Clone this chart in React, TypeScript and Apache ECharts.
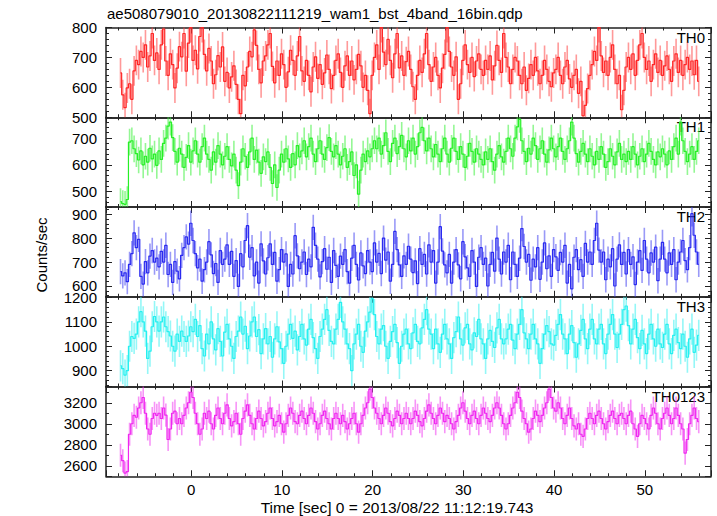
import React, { useEffect, useRef } from 'react';
import * as echarts from 'echarts';

const TITLE = 'ae508079010_20130822111219_wam1_bst_4band_16bin.qdp';
const X_TITLE = 'Time [sec] 0 = 2013/08/22 11:12:19.743';
const Y_TITLE = 'Counts/sec';
const PANEL_NAMES = ['TH0', 'TH1', 'TH2', 'TH3', 'TH0123'];

// time bins (seconds): 0.25 s bins, first bin centre
const BIN_START = -7.8;
const BIN_WIDTH = 0.25;
const X_MIN = -9.4;
const X_MAX = 57.3;

const TH0 = [
  648, 575, 532, 598, 612, 560, 655, 690, 676, 720, 700, 742, 668, 705, 780, 690,
  715, 660, 742, 795, 688, 640, 712, 676, 598, 664, 736, 702, 780, 654, 748, 800,
  690, 724, 662, 770, 800, 710, 655, 730, 688, 612, 642, 706, 668, 735, 620, 650,
  598, 635, 672, 610, 560, 512, 640, 605, 668, 720, 702, 792, 740, 660, 615, 688,
  705, 742, 780, 670, 615, 688, 640, 712, 676, 600, 652, 724, 690, 640, 705, 770,
  655, 620, 690, 640, 585, 668, 702, 630, 676, 610, 648, 708, 660, 596, 640, 690,
  712, 650, 600, 672, 705, 640, 688, 625, 660, 710, 672, 600, 640, 590, 512, 640,
  700, 742, 660, 800, 718, 676, 760, 690, 632, 712, 780, 665, 705, 640, 686, 720,
  660, 602, 560, 640, 690, 650, 712, 780, 676, 620, 668, 700, 640, 598, 664, 710,
  800, 720, 668, 640, 702, 560, 612, 690, 742, 676, 650, 700, 636, 688, 712, 660,
  640, 690, 660, 705, 625, 672, 740, 690, 650, 780, 700, 668, 612, 660, 700, 688,
  640, 612, 668, 590, 630, 676, 640, 700, 655, 612, 640, 690, 660, 620, 602, 648,
  660, 700, 640, 612, 668, 690, 628, 600, 640, 660, 580, 620, 505, 540, 596, 640,
  676, 720, 690, 800, 705, 650, 688, 640, 700, 742, 660, 612, 640, 525, 590, 668,
  700, 660, 712, 640, 690, 742, 780, 700, 660, 688, 620, 676, 712, 650, 690, 640,
  672, 705, 660, 620, 688, 712, 650, 690, 640, 676, 700, 660, 688, 642, 690, 620,
];

const TH1 = [
  462, 455, 452, 470, 685, 690, 660, 642, 618, 652, 600, 632, 610, 662, 622, 640,
  598, 652, 620, 680, 700, 745, 760, 702, 650, 610, 662, 640, 590, 628, 672, 610,
  652, 690, 640, 610, 668, 700, 640, 620, 580, 648, 610, 672, 640, 600, 632, 668,
  620, 596, 640, 580, 522, 610, 660, 632, 590, 648, 700, 620, 655, 610, 568, 630,
  612, 648, 590, 530, 600, 515, 580, 640, 610, 660, 622, 590, 642, 600, 672, 630,
  652, 690, 630, 668, 700, 640, 612, 660, 690, 640, 620, 664, 702, 650, 630, 672,
  640, 600, 632, 660, 590, 612, 648, 560, 600, 490, 580, 640, 612, 652, 630, 660,
  690, 660, 700, 640, 672, 720, 650, 612, 680, 700, 642, 668, 710, 660, 630, 690,
  652, 700, 640, 668, 720, 740, 690, 652, 700, 660, 630, 676, 640, 612, 660, 700,
  640, 610, 662, 700, 650, 620, 668, 640, 590, 632, 680, 650, 610, 660, 640, 620,
  600, 648, 620, 660, 612, 580, 640, 672, 630, 610, 650, 700, 660, 632, 700, 742,
  770, 690, 650, 612, 662, 640, 700, 672, 620, 660, 690, 640, 610, 656, 700, 660,
  630, 668, 700, 650, 620, 660, 690, 760, 700, 642, 610, 650, 680, 640, 612, 660,
  632, 600, 650, 620, 668, 640, 590, 612, 660, 632, 600, 648, 680, 620, 640, 612,
  650, 620, 668, 640, 600, 632, 660, 612, 640, 680, 650, 620, 600, 648, 630, 660,
  640, 600, 652, 620, 668, 700, 640, 760, 690, 650, 612, 640, 668, 620, 650, 690,
];

const TH2 = [
  660, 642, 655, 618, 690, 735, 822, 760, 795, 640, 608, 702, 655, 725, 748, 700,
  716, 680, 745, 700, 770, 648, 690, 615, 702, 662, 630, 728, 760, 805, 775, 862,
  790, 735, 676, 712, 620, 668, 700, 785, 730, 652, 694, 615, 748, 690, 712, 772,
  690, 745, 640, 706, 598, 735, 680, 790, 852, 720, 760, 642, 700, 612, 776, 705,
  650, 718, 776, 690, 740, 620, 668, 752, 700, 734, 598, 690, 650, 810, 726, 672,
  700, 742, 648, 712, 680, 845, 770, 712, 638, 702, 756, 670, 720, 615, 748, 686,
  640, 725, 690, 752, 660, 612, 716, 770, 690, 625, 738, 684, 652, 748, 700, 660,
  780, 700, 736, 652, 800, 708, 742, 620, 690, 828, 752, 688, 640, 726, 690, 766,
  712, 656, 705, 610, 756, 690, 732, 650, 772, 700, 748, 612, 700, 848, 746, 688,
  655, 732, 612, 700, 752, 688, 630, 785, 722, 676, 640, 748, 700, 598, 720, 760,
  690, 716, 600, 690, 740, 662, 800, 712, 650, 742, 700, 770, 626, 742, 690, 640,
  716, 840, 765, 700, 732, 624, 712, 680, 760, 628, 700, 780, 672, 726, 640, 752,
  722, 665, 740, 700, 770, 612, 690, 588, 720, 752, 668, 710, 640, 778, 700, 742,
  690, 790, 862, 750, 700, 742, 626, 712, 680, 756, 600, 712, 772, 690, 740, 650,
  752, 690, 722, 606, 700, 748, 665, 790, 712, 655, 738, 700, 762, 622, 712, 782,
  712, 655, 738, 690, 752, 626, 700, 742, 790, 706, 668, 760, 902, 812, 742, 690,
];

const TH3 = [
  920, 908, 882, 900, 1000, 1040, 1032, 1050, 1100, 1142, 1100, 1062, 950, 980, 1080, 1122,
  1100, 1062, 1100, 1120, 1080, 1060, 1042, 1000, 980, 1050, 1020, 1062, 1040, 1020, 1042, 1080,
  1060, 1110, 1040, 1085, 990, 960, 1050, 1010, 1100, 1030, 985, 1072, 1020, 960, 1058, 1090,
  1030, 1000, 950, 1040, 1062, 1120, 1050, 1082, 990, 1042, 1100, 1120, 1040, 1068, 970, 1030,
  1072, 1010, 1040, 955, 1030, 1080, 1018, 990, 930, 1000, 1050, 1090, 1032, 1062, 985, 1040,
  1090, 1030, 1005, 1070, 1110, 1035, 990, 950, 1040, 1070, 1110, 1150, 1065, 1020, 1010, 1070,
  1110, 1180, 1100, 1070, 1010, 990, 900, 1010, 1050, 1090, 1000, 975, 1062, 1100, 1140, 1195,
  1130, 1040, 1010, 1070, 1085, 1000, 950, 1020, 1060, 1090, 1015, 930, 1000, 1050, 1070, 1010,
  990, 1055, 1090, 1020, 1010, 1075, 1110, 1150, 1070, 1050, 990, 1070, 1010, 975, 1050, 1090,
  1030, 1010, 950, 1035, 1060, 1120, 1030, 1005, 1075, 1090, 1010, 985, 1055, 1040, 1110, 1030,
  1010, 950, 1030, 1065, 1020, 995, 1075, 1110, 1030, 1010, 1030, 1070, 1090, 1025, 990, 1050,
  1090, 1150, 1055, 1030, 990, 1050, 1090, 1030, 1010, 930, 990, 1050, 1085, 1060, 1010, 1005,
  1045, 1090, 1130, 1050, 1030, 970, 1050, 1085, 1015, 955, 1010, 1065, 1110, 1030, 990, 1070,
  1110, 1030, 1010, 1070, 1090, 1010, 970, 1050, 1090, 1130, 1050, 995, 1050, 1090, 1150, 1165,
  1085, 1010, 1070, 1110, 1035, 990, 1065, 1010, 970, 1050, 1090, 1030, 1000, 1070, 1010, 995,
  1050, 1090, 1010, 970, 1045, 1070, 1015, 990, 1050, 1000, 955, 1030, 1070, 975, 1005, 1045,
];

const TH0123 = [
  2700, 2648, 2530, 2545, 2900, 3000, 3080, 3062, 3150, 3200, 3250, 3100, 2950, 2900, 3050, 3100,
  3080, 3100, 3050, 3150, 3082, 2850, 2950, 3100, 3120, 3000, 3050, 3000, 3080, 3150, 3200, 3300,
  3250, 3100, 3000, 2900, 2950, 3100, 3050, 3120, 3000, 2950, 3080, 3150, 3050, 3000, 3100, 3180,
  3050, 2980, 3020, 3100, 3000, 2900, 3050, 3120, 3180, 3080, 3000, 2950, 3050, 3120, 3050, 2980,
  3020, 3100, 3150, 3050, 2980, 3020, 3080, 3000, 2920, 3000, 3080, 3150, 3100, 3020, 3000, 3080,
  3120, 3050, 3000, 3080, 3150, 3100, 3020, 2950, 3000, 3080, 3120, 3050, 3000, 2950, 3050, 3100,
  3050, 3000, 3080, 3020, 2950, 3000, 3050, 3100, 3000, 2920, 3000, 3080, 3150, 3200, 3330, 3250,
  3150, 3100, 3050, 3000, 3080, 3150, 3100, 3020, 2980, 3050, 3120, 3080, 3000, 3050, 3100, 3050,
  3000, 3050, 3120, 3080, 3020, 2980, 3050, 3120, 3180, 3100, 3050, 3000, 3080, 3150, 3100, 3020,
  3080, 3050, 3000, 2950, 3020, 3080, 3150, 3200, 3120, 3050, 3000, 3080, 3120, 3050, 3000, 3080,
  3150, 3100, 3050, 3020, 3080, 3150, 3200, 3150, 3080, 3000, 2950, 3000, 3080, 3150, 3200, 3300,
  3250, 3120, 3050, 3000, 2920, 2950, 3050, 3120, 3080, 3020, 3080, 3150, 3200, 3330, 3250, 3150,
  3120, 3200, 3150, 3050, 3000, 3080, 3150, 3050, 2980, 2950, 3000, 2900, 2880, 2950, 3050, 3100,
  3050, 3000, 3080, 3120, 3050, 3000, 2950, 3020, 3080, 3120, 3050, 3000, 3080, 3100, 3050, 3000,
  3080, 3120, 3000, 2950, 2880, 3000, 3080, 3050, 3000, 2950, 3080, 3150, 3100, 3000, 2950, 3050,
  3100, 3150, 3080, 3000, 3050, 3150, 3080, 3000, 2950, 2720, 2850, 3000, 3080, 3150, 3050, 3020,
];

const PANEL_DATA = [TH0, TH1, TH2, TH3, TH0123];
// typical 1-sigma error per band (counts/sec)
const PANEL_ERR = [50, 50, 53, 64, 110];
const Y_MIN = [500, 442, 555, 835, 2500];
const Y_MAX = [800, 778, 930, 1203, 3355];
const Y_SPLIT = [3, 3, 3, 3, 4];
const Y_MINOR = [5, 5, 5, 5, 2];
const LINE_COLORS = ['#ff2626', '#26f026', '#2a2af0', '#26f0f0', '#f026f0'];
const BAR_COLORS = [
  'rgba(255,70,70,0.55)',
  'rgba(60,240,60,0.55)',
  'rgba(70,70,240,0.55)',
  'rgba(60,240,240,0.55)',
  'rgba(240,60,240,0.55)',
];

const FONT = 'Liberation Sans, Arial, Helvetica, sans-serif';
const PLOT_LEFT = 106;
const PLOT_RIGHT = 711;
const PLOT_TOP = 27.5;
const PANEL_H = 89.75;
const W = 717;
const H = 516;

export default function App() {
  const ref = useRef<HTMLDivElement>(null);
  useEffect(() => {
    if (!ref.current) return;
    const chart = echarts.init(ref.current, null, { renderer: 'svg' });
    const axisLine = { show: true, onZero: false, lineStyle: { color: '#222', width: 1.5 } };
    const fmt = (v: number) => String(Math.round(v));
    const grids: any[] = [];
    const xAxes: any[] = [];
    const yAxes: any[] = [];
    const series: any[] = [];
    const graphics: any[] = [];
    PANEL_DATA.forEach((vals, k) => {
      grids.push({ left: PLOT_LEFT, top: PLOT_TOP + k * PANEL_H, width: PLOT_RIGHT - PLOT_LEFT, height: PANEL_H });
      const isLast = k === PANEL_DATA.length - 1;
      const xBase = {
        type: 'value', gridIndex: k, min: X_MIN, max: X_MAX, splitNumber: 7,
        axisLine, splitLine: { show: false },
        axisTick: { show: true, inside: true, length: 6, lineStyle: { color: '#222', width: 1 } },
        minorTick: { show: true, splitNumber: 5, length: 3, lineStyle: { color: '#222', width: 1 } },
      };
      xAxes.push({
        ...xBase, position: 'bottom',
        axisLabel: { show: isLast, showMinLabel: false, showMaxLabel: false, color: '#000', fontSize: 15, fontFamily: FONT, margin: 6, formatter: fmt },
      });
      xAxes.push({ ...xBase, position: 'top', axisLabel: { show: false } });
      const yBase = {
        type: 'value', gridIndex: k, min: Y_MIN[k], max: Y_MAX[k], splitNumber: Y_SPLIT[k],
        axisLine, splitLine: { show: false },
        axisTick: { show: true, inside: true, length: 6, lineStyle: { color: '#222', width: 1 } },
        minorTick: { show: true, splitNumber: Y_MINOR[k], length: 3, lineStyle: { color: '#222', width: 1 } },
      };
      const edgeOk = k === 0;
      yAxes.push({
        ...yBase, position: 'left',
        axisLabel: { show: true, showMinLabel: edgeOk, showMaxLabel: edgeOk, color: '#000', fontSize: 15, fontFamily: FONT, margin: 9, formatter: fmt },
      });
      yAxes.push({ ...yBase, position: 'right', axisLabel: { show: false } });

      const pts = vals.map((v, i) => [BIN_START + i * BIN_WIDTH, v]);
      const err = PANEL_ERR[k];
      const barColor = BAR_COLORS[k];
      series.push({
        type: 'custom', xAxisIndex: 2 * k, yAxisIndex: 2 * k, clip: true, silent: true,
        data: vals.map((v, i) => [BIN_START + i * BIN_WIDTH, v, err]),
        renderItem: (params: any, api: any) => {
          const x = api.value(0);
          const y = api.value(1);
          const e = api.value(2);
          const p1 = api.coord([x, y - e]);
          const p2 = api.coord([x, y + e]);
          return {
            type: 'line',
            shape: { x1: p1[0], y1: p1[1], x2: p2[0], y2: p2[1] },
            style: { stroke: barColor, lineWidth: 1.6 },
          };
        },
      });
      series.push({
        type: 'line', xAxisIndex: 2 * k, yAxisIndex: 2 * k, step: 'middle', data: pts,
        showSymbol: false, symbol: 'none', silent: true, clip: true,
        lineStyle: { color: LINE_COLORS[k], width: 1.2 },
      });
      graphics.push({
        type: 'text', right: W - 705, top: PLOT_TOP + k * PANEL_H + 2,
        style: { text: PANEL_NAMES[k], fontSize: 15, fontFamily: FONT, fill: '#000' },
      });
    });
    graphics.push({
      type: 'text', left: 107, top: 6,
      style: { text: TITLE, fontSize: 15, fontFamily: FONT, fill: '#000' },
    });
    graphics.push({
      type: 'text', x: 397, y: 507,
      style: { text: X_TITLE, fontSize: 15.5, fontFamily: FONT, fill: '#000', align: 'center', verticalAlign: 'middle' },
    });
    graphics.push({
      type: 'text', x: 41, y: 255, rotation: Math.PI / 2,
      style: { text: Y_TITLE, fontSize: 15, fontFamily: FONT, fill: '#000', align: 'center', verticalAlign: 'middle' },
    });
    chart.setOption({
      animation: false,
      backgroundColor: '#fff',
      grid: grids,
      xAxis: xAxes,
      yAxis: yAxes,
      series,
      graphic: graphics,
    });
    return () => chart.dispose();
  }, []);
  return <div ref={ref} style={{ position: 'absolute', left: 0, top: 0, width: W, height: H, background: '#fff' }} />;
}
